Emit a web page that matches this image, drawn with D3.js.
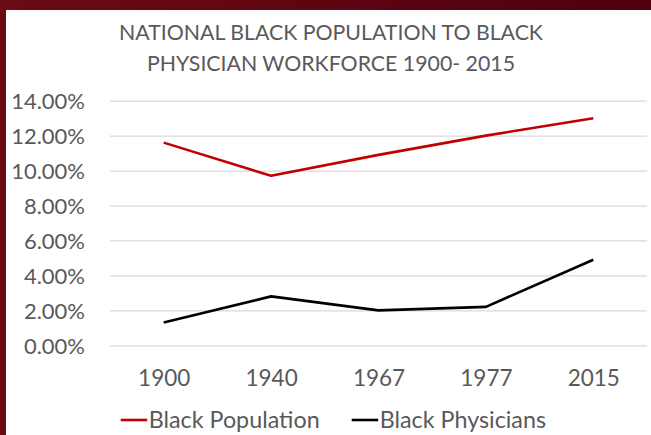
<!DOCTYPE html>
<html>
<head>
<meta charset="utf-8">
<script src="https://cdn.jsdelivr.net/npm/d3@7"></script>
<style>
  html, body { margin: 0; padding: 0; background: #fff; }
  svg { display: block; }
  text { font-family: Lato, "Open Sans", sans-serif; fill: #595959; }
</style>
</head>
<body>
<svg id="chart" width="651" height="435"></svg>
<script>
// Share of the US population that is Black vs. share of physicians who are Black
const years = ["1900", "1940", "1967", "1977", "2015"];
const blackPopulation = [0.116, 0.097, 0.109, 0.120, 0.130];
const blackPhysicians = [0.013, 0.028, 0.020, 0.022, 0.049];
const yTicks = [0, 0.02, 0.04, 0.06, 0.08, 0.10, 0.12, 0.14];
const titleLines = ["NATIONAL BLACK POPULATION TO BLACK", "PHYSICIAN WORKFORCE 1900- 2015"];
const seriesNames = ["Black Population", "Black Physicians"];
const seriesColors = ["#c00000", "#000000"];

const W = 651, H = 435;
const svg = d3.select("#chart");

// slide frame: maroon band along the top and the left edge
const defs = svg.append("defs");
const grad = defs.append("linearGradient").attr("id", "frame").attr("x1", "0").attr("x2", "1");
grad.append("stop").attr("offset", "0").attr("stop-color", "#6c0a15");
grad.append("stop").attr("offset", "1").attr("stop-color", "#50000e");
svg.append("rect").attr("x", 0).attr("y", 0).attr("width", W).attr("height", 10).attr("fill", "url(#frame)");
svg.append("rect").attr("x", 0).attr("y", 0).attr("width", 6).attr("height", H).attr("fill", "#6c0a15");

const x = d3.scalePoint().domain(years).range([110, 647]).padding(0.5);
const y = d3.scaleLinear().domain([0, 0.14]).range([345.3, 100.7]);

// title
svg.append("g").selectAll("text").data(titleLines).join("text")
  .attr("x", 331).attr("y", (d, i) => 39.5 + i * 31.5)
  .attr("text-anchor", "middle")
  .style("font-size", "21.3px")
  .text(d => d);

// horizontal gridlines + percentage labels
const yAxis = d3.axisLeft(y).tickValues(yTicks).tickFormat(d3.format(".2%")).tickSize(-(647 - 110)).tickPadding(25);
const gy = svg.append("g").attr("transform", "translate(110,0)").call(yAxis);
gy.select(".domain").remove();
gy.selectAll(".tick line").attr("stroke", "#d9d9d9").attr("stroke-width", 1.3);
gy.selectAll(".tick text").style("font-size", "22px").attr("fill", "#595959").attr("dy", "0.36em");

// category labels along the bottom
const xAxis = d3.axisBottom(x).tickSize(0).tickPadding(0);
const gx = svg.append("g").attr("transform", "translate(0,386)").call(xAxis);
gx.select(".domain").remove();
gx.selectAll(".tick text").style("font-size", "22.5px").attr("fill", "#595959").attr("dy", 0);

// the two series
const line = d3.line().x((d, i) => x(years[i])).y(d => y(d));
[blackPopulation, blackPhysicians].forEach((vals, k) => {
  svg.append("path").datum(vals)
    .attr("d", line)
    .attr("fill", "none")
    .attr("stroke", seriesColors[k])
    .attr("stroke-width", 2.6)
    .attr("stroke-linejoin", "round");
});

// legend
const legendX = [120.7, 351.7];
const lg = svg.append("g").selectAll("g").data(seriesNames).join("g")
  .attr("transform", (d, i) => `translate(${legendX[i]},420)`);
lg.append("line").attr("x1", 0).attr("x2", 26.5).attr("y1", 0).attr("y2", 0)
  .attr("stroke", (d, i) => seriesColors[i]).attr("stroke-width", 2.6);
lg.append("text").attr("x", 28).attr("y", 8.3).style("font-size", "23.3px").text(d => d);
</script>
</body>
</html>
